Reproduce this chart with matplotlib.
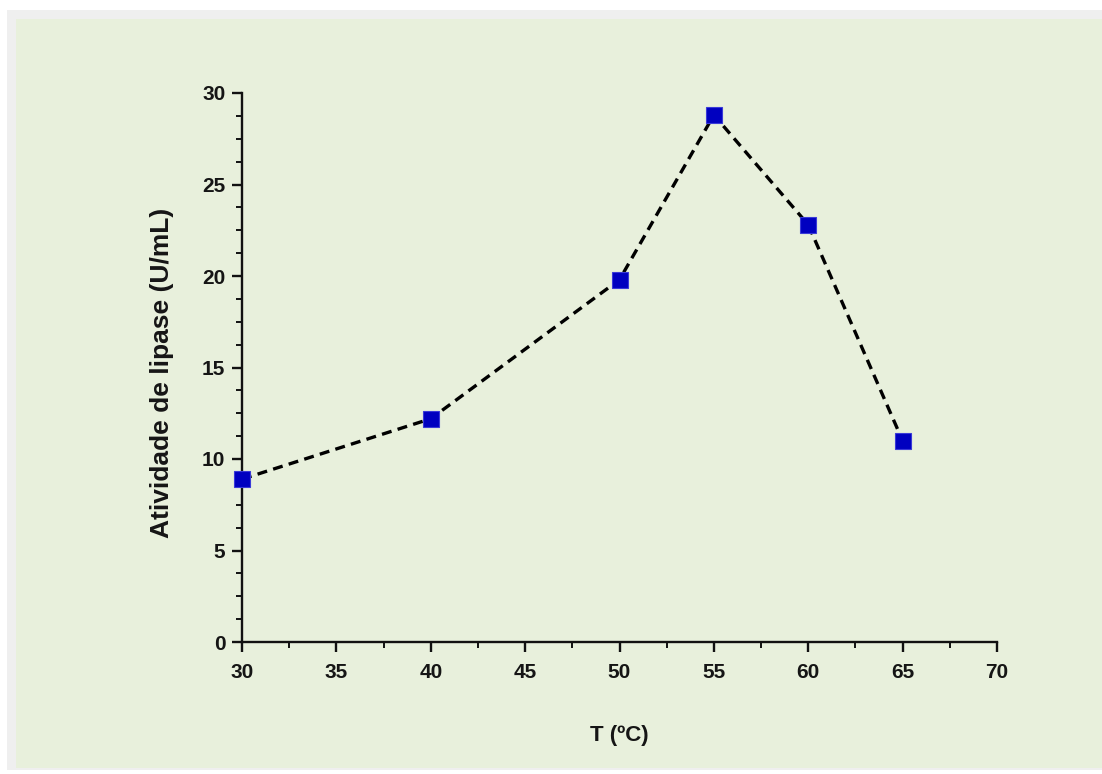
import matplotlib
matplotlib.use("Agg")
import matplotlib.pyplot as plt
from matplotlib.patches import Rectangle
from matplotlib.ticker import MultipleLocator

# temperatura (ºC) e atividade de lipase (U/mL)
temp = [30, 40, 50, 55, 60, 65]
atividade = [8.9, 12.2, 19.8, 28.8, 22.8, 11.0]

plt.rcParams['font.family'] = ['Liberation Sans', 'DejaVu Sans']
plt.rcParams['font.weight'] = 'bold'

fig = plt.figure(figsize=(11.02, 7.74), dpi=100)
fig.patch.set_facecolor('white')

# moldura cinza e painel verde
W, H = 1102, 774
fig.patches.append(Rectangle((7 / W, 4 / H), 1 - 7 / W, 1 - 14 / H,
                             transform=fig.transFigure, facecolor='#efefef',
                             edgecolor='none', zorder=-2))
fig.patches.append(Rectangle((16 / W, 6 / H), 1 - 16 / W, 1 - 25 / H,
                             transform=fig.transFigure, facecolor='#e8f0dc',
                             edgecolor='none', zorder=-1))

ax = fig.add_axes([242 / W, 1 - 642 / H, (997 - 242) / W, (642 - 93) / H])
ax.set_facecolor('none')

ax.plot(temp, atividade, color='black', linestyle=(0, (3.0, 1.9)), linewidth=2.4,
        zorder=2)
ax.plot(temp, atividade, linestyle='none', marker='s', markersize=11.5,
        markerfacecolor='#0000c0', markeredgecolor='#3a3ad8', markeredgewidth=0.8,
        zorder=3, clip_on=False)

ax.set_xlim(30, 70)
ax.set_ylim(0, 30)
ax.xaxis.set_major_locator(MultipleLocator(5))
ax.xaxis.set_minor_locator(MultipleLocator(2.5))
ax.yaxis.set_major_locator(MultipleLocator(5))
ax.yaxis.set_minor_locator(MultipleLocator(1.25))

for side in ('top', 'right'):
    ax.spines[side].set_visible(False)
for side in ('left', 'bottom'):
    ax.spines[side].set_linewidth(1.7)
    ax.spines[side].set_color('#111111')

ax.tick_params(which='major', direction='out', length=7, width=1.7,
               labelsize=15, color='#111111', labelcolor='#151515', pad=5)
ax.tick_params(which='minor', direction='out', length=4, width=1.4,
               color='#111111')
ax.tick_params(axis='x', which='major', pad=8)
for lab in ax.get_xticklabels() + ax.get_yticklabels():
    lab.set_fontweight('bold')

ax.set_xlabel('T (ºC)', fontsize=16, fontweight='bold', color='#151515')
ax.set_ylabel('Atividade de lipase (U/mL)', fontsize=19, fontweight='bold',
              color='#151515')
ax.xaxis.label.set_va('center')
ax.yaxis.label.set_va('center')
ax.xaxis.set_label_coords(0.5, (642 - 735) / 549)
ax.yaxis.set_label_coords((162 - 242) / 755, (642 - 373) / 549)

fig.savefig('out.png', dpi=100, facecolor=fig.get_facecolor())
